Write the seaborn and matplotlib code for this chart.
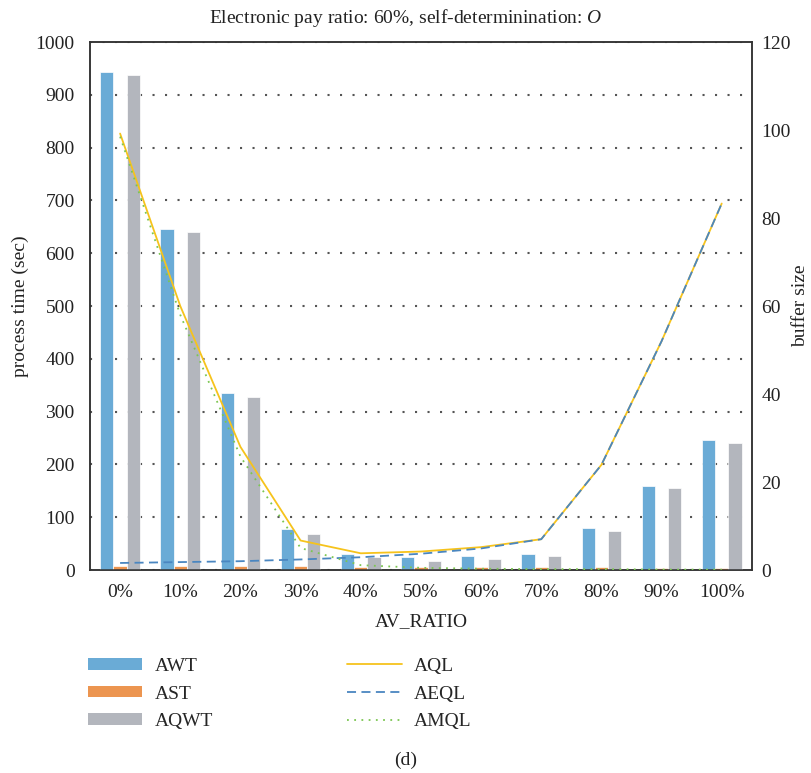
import numpy as np
import pandas as pd
import matplotlib
matplotlib.use("Agg")
import matplotlib.pyplot as plt
from matplotlib.patches import Patch
from matplotlib.lines import Line2D
import seaborn as sns

# ---- data -------------------------------------------------------------
categories = ["0%", "10%", "20%", "30%", "40%", "50%", "60%", "70%", "80%", "90%", "100%"]

# process times (sec), left axis
awt = [943, 646, 335, 77, 30, 24, 26, 30, 79, 160, 246]
ast = [7.5, 7.5, 7.5, 7.5, 5, 5, 5, 5, 5, 3.5, 3.5]
aqwt = [937, 640, 328, 68, 24, 17, 20, 26, 74, 156, 241]

# buffer sizes, right axis
aql = [99.2, 60, 28, 6.7, 3.8, 4.2, 5.2, 7.0, 23.9, 52, 83.3]
aeql = [1.6, 1.8, 2.0, 2.4, 2.9, 3.7, 4.9, 7.0, 23.9, 52, 83.3]
amql = [98.5, 58, 25.8, 5.0, 1.1, 0.5, 0.3, 0.2, 0.2, 0.1, 0.1]

bar_names = ["AWT", "AST", "AQWT"]
line_names = ["AQL", "AEQL", "AMQL"]
bar_colors = {"AWT": "#6aabd6", "AST": "#ec9550", "AQWT": "#b3b6bd"}
line_colors = {"AQL": "#f6c31c", "AEQL": "#4a86c0", "AMQL": "#7cc652"}
line_dashes = {"AQL": "", "AEQL": (5, 3), "AMQL": (1, 3)}

title = "Electronic pay ratio: 60%, self-determinination: $\\mathit{O}$"

# ---- styling ----------------------------------------------------------
sns.set_theme(style="white")
plt.rcParams["font.family"] = ["Liberation Serif", "DejaVu Serif"]
plt.rcParams["mathtext.fontset"] = "custom"
plt.rcParams["mathtext.rm"] = "Liberation Serif"
plt.rcParams["mathtext.it"] = "Liberation Serif:italic"
FS = 14
TXT = "#222222"

bars = pd.DataFrame({
    "ratio": np.repeat(categories, len(bar_names)),
    "series": bar_names * len(categories),
    "value": np.column_stack([awt, ast, aqwt]).ravel(),
})
pos = np.arange(len(categories))
lines = pd.DataFrame({
    "pos": np.tile(pos, len(line_names)),
    "series": np.repeat(line_names, len(categories)),
    "value": np.concatenate([aql, aeql, amql]),
})

fig = plt.figure(figsize=(8.11, 7.73), dpi=100)
ax = fig.add_axes([0.111, 0.2626, 0.816, 0.683])

sns.barplot(data=bars, x="ratio", y="value", hue="series", order=categories,
            hue_order=bar_names, palette=bar_colors, width=0.66, gap=0.0,
            saturation=1, edgecolor="white", linewidth=0.5, legend=False,
            ax=ax, zorder=3)

ax.set_xlim(-0.5, len(categories) - 0.5)
ax.set_ylim(0, 1000)
ax.set_yticks(np.arange(0, 1001, 100))
ax.yaxis.grid(True, color="#555555", linestyle=(0, (1, 5)), linewidth=1.5)
ax.set_axisbelow(True)
ax.tick_params(axis="both", length=0, labelsize=FS, colors=TXT)
ax.tick_params(axis="y", pad=11)
ax.tick_params(axis="x", pad=10)
ax.set_xlabel("AV_RATIO", fontsize=FS, labelpad=9, color=TXT)
ax.set_ylabel("process time (sec)", fontsize=FS, labelpad=5, color=TXT)

fig.text(0.5, 1 - 18 / 773, title, ha="center", va="center", fontsize=FS, color=TXT)

ax2 = ax.twinx()
sns.lineplot(data=lines, x="pos", y="value", hue="series", style="series",
             hue_order=line_names, style_order=line_names,
             palette=line_colors, dashes=line_dashes, linewidth=1.3,
             legend=False, ax=ax2, zorder=4)
ax2.set_xlim(-0.5, len(categories) - 0.5)
ax2.set_ylim(0, 120)
ax2.set_yticks(np.arange(0, 121, 20))
ax2.grid(False)
ax2.tick_params(axis="y", length=0, labelsize=FS, pad=7, colors=TXT)
ax2.set_ylabel("buffer size", fontsize=FS, labelpad=1, color=TXT)
ax2.set_xlabel("")

for a in (ax, ax2):
    for s in a.spines.values():
        s.set_visible(True)
        s.set_color("#333333")
        s.set_linewidth(1.1)

# legend below the axes: bars in the first column, lines in the second
handles = [Patch(facecolor=bar_colors[n], edgecolor="none") for n in bar_names]
handles += [Line2D([], [], color=line_colors[n], linewidth=1.3,
                   linestyle="-" if line_dashes[n] == "" else (0, line_dashes[n]))
            for n in line_names]
fig.legend(handles, bar_names + line_names, loc="upper left",
           bbox_to_anchor=(0.108, 0.149), ncol=2, frameon=False,
           fontsize=FS, handlelength=2.8, handleheight=0.55, handletextpad=0.65,
           columnspacing=6.9, labelspacing=0.55, borderpad=0, borderaxespad=0)

fig.text(0.5, 0.017, "(d)", ha="center", va="center", fontsize=FS, color=TXT)

fig.savefig("out.png", dpi=100)
